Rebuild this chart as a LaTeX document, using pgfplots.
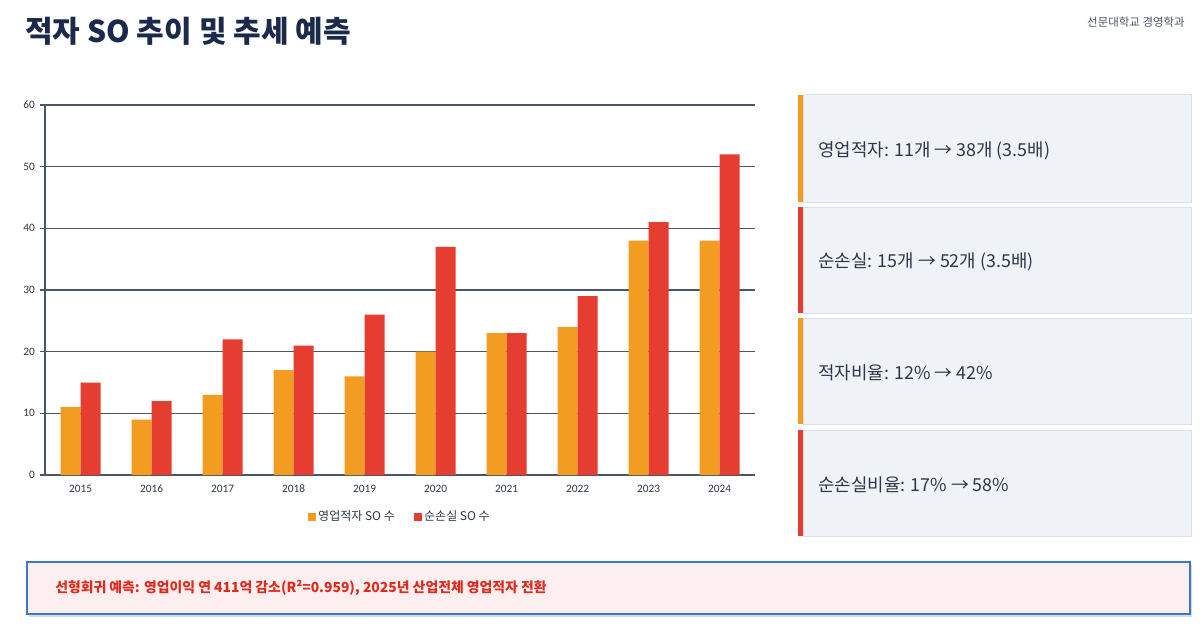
\documentclass[border=0pt]{standalone}
\usepackage{pgfplots}
\pgfplotsset{compat=1.18}
\usepackage{fontspec}
\setmainfont{Noto Sans CJK KR}
\newfontfamily\tickfont{Carlito}
\definecolor{cOrange}{HTML}{F39C22}
\definecolor{cRed}{HTML}{E53E30}
\definecolor{cNavy}{HTML}{1B2A4A}
\definecolor{cText}{HTML}{2D3748}
\definecolor{cGrid}{HTML}{4A5568}
\definecolor{cBoxFill}{HTML}{EFF3F8}
\definecolor{cBoxLine}{HTML}{D9E0EA}
\definecolor{cPinkFill}{HTML}{FDEFEF}
\definecolor{cBlue}{HTML}{3B78C4}
\definecolor{cAlert}{HTML}{E02A1E}
\begin{document}
\begin{tikzpicture}
\begin{scope}[x=0.75pt,y=-0.75pt]
\path[use as bounding box] (0,0) rectangle (1200,635);
\fill[white] (0,0) rectangle (1200,635);
% title
\node[anchor=base west,inner sep=0pt,text=cNavy,font=\fontsize{22.5}{26}\selectfont\bfseries] at (25,43) {적자 SO 추이 및 추세 예측};
\node[anchor=base east,inner sep=0pt,text=cGrid,font=\fontsize{8.6}{10}\selectfont] at (1185,27) {선문대학교 경영학과};
% right boxes
\foreach \ya/\yb/\c/\t in {95/202/cOrange/{영업적자: 11개 → 38개 (3.5배)},207/313/cRed/{순손실: 15개 → 52개 (3.5배)},318/424/cOrange/{적자비율: 12\% → 42\%},430/536/cRed/{순손실비율: 17\% → 58\%}}{
  \filldraw[fill=cBoxFill,draw=cBoxLine,line width=0.75pt] (803,\ya) rectangle (1191,\yb);
  \fill[\c] (798,\ya) rectangle (803,\yb);
  \node[anchor=west,inner sep=0pt,text=cText,font=\fontsize{13.4}{15}\selectfont] at (818,{(\ya+\yb)/2+2}) {\t};
}
% bottom box
\fill[black!14] (29,565) rectangle (1192,616.5);
\filldraw[fill=cPinkFill,draw=cBlue,line width=1.1pt] (27,562) rectangle (1190,614);
\node[anchor=west,inner sep=0pt,text=cAlert,font=\fontsize{10.4}{13}\selectfont\bfseries] at (55,588) {선형회귀 예측: 영업이익 연 411억 감소(R²=0.959), 2025년 산업전체 영업적자 전환};
\end{scope}
\begin{axis}[
  at={(33.75pt,-356.25pt)}, anchor=south west,
  scale only axis, width=532.5pt, height=277.5pt,
  xmin=-0.5, xmax=9.5, ymin=0, ymax=60,
  axis x line*=bottom, axis y line*=left,
  axis line style={cGrid,line width=0.9pt},
  xtick={0,...,9},
  xticklabels={2015,2016,2017,2018,2019,2020,2021,2022,2023,2024},
  x tick style={draw=none},
  extra x ticks={-0.5,0.5,...,9.5},
  extra x tick labels={},
  extra x tick style={tick style={draw=cGrid,line width=0.9pt}, major tick length=4.5pt, tick align=outside, grid=none},
  ytick={0,10,...,60},
  y tick style={draw=cGrid,line width=0.9pt},
  tick align=outside, major tick length=4pt,
  ymajorgrids, grid style={cGrid,line width=0.9pt},
  tick label style={font=\tickfont\fontsize{8.5}{10}\selectfont, text=cText},
  /pgf/number format/assume math mode=true,
  ybar, bar width=15pt,
  legend columns=2,
  legend style={at={(0.5,-0.1135)},anchor=center,draw=none,fill=none,
    font=\fontsize{9}{10}\selectfont, text=cText,
    /tikz/every even column/.append style={column sep=12pt}},
  legend image code/.code={\fill[#1] (0pt,-3pt) rectangle (6pt,3pt);},
]
\addplot[fill=cOrange,draw=none,bar shift=-7.5pt] coordinates {(0,11) (1,9) (2,13) (3,17) (4,16) (5,20) (6,23) (7,24) (8,38) (9,38)};
\addlegendentry{영업적자 SO 수}
\addplot[fill=cRed,draw=none,bar shift=7.5pt] coordinates {(0,15) (1,12) (2,22) (3,21) (4,26) (5,37) (6,23) (7,29) (8,41) (9,52)};
\addlegendentry{순손실 SO 수}
\end{axis}
\end{tikzpicture}
\end{document}
